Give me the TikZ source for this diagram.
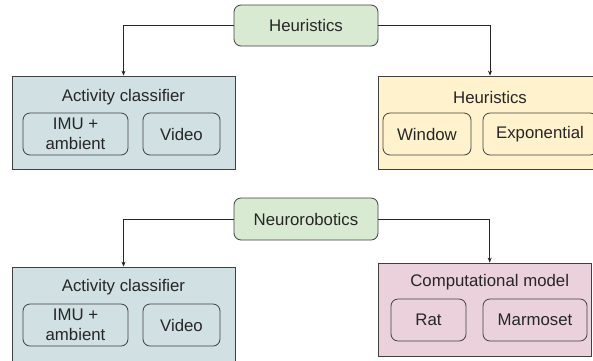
\documentclass[tikz,border=0pt]{standalone}
\usepackage{fontspec}
\setmainfont{Liberation Sans}
\usetikzlibrary{arrows.meta}
\definecolor{cgreen}{HTML}{D9EAD3}
\definecolor{cblue}{HTML}{D0E0E3}
\definecolor{cyellow}{HTML}{FFF2CC}
\definecolor{cpink}{HTML}{EAD1DC}
\definecolor{cline}{HTML}{404040}
\begin{document}
\begin{tikzpicture}[x=1pt,y=-1pt,
  every node/.style={font=\fontsize{16.8}{20}\selectfont, text=black!85, inner sep=0pt, align=center},
  outerbox/.style={draw=cline, line width=0.8pt, minimum width=#1},
  rbox/.style={draw=cline, line width=0.8pt, rounded corners=7pt},
  lbl/.style={draw=none},
  conn/.style={draw=black!85, line width=0.8pt, -{Stealth[length=5pt,width=4pt]}}]
\useasboundingbox (0,0) rectangle (593,360);
\clip (0,0) rectangle (593,360);
% top group
\node[rbox, fill=cgreen, minimum width=144pt, minimum height=41pt] (heur) at (306,25.5) {Heuristics};
\node[outerbox=223pt, fill=cblue, minimum height=93pt] (acA) at (123.5,122.5) {};
\node[lbl] (acAt) at (123.5,97) {Activity classifier};
\node[rbox, minimum width=105pt, minimum height=42pt] (imuA) at (75.5,134) {IMU +\\ambient};
\node[rbox, minimum width=77pt, minimum height=42pt] (vidA) at (181.5,134) {Video};
\node[outerbox=224pt, fill=cyellow, minimum height=93pt] (hbox) at (490,122.5) {};
\node[lbl] (hboxt) at (490,97) {Heuristics};
\node[rbox, minimum width=88pt, minimum height=42pt] (win) at (427,134) {Window};
\node[rbox, minimum width=114pt, minimum height=42pt] (expo) at (540,134) {Exponential};
\draw[conn] (heur.west) -| (acA.north);
\draw[conn] (heur.east) -| (hbox.north);
% bottom group
\node[rbox, fill=cgreen, minimum width=144pt, minimum height=42pt] (neuro) at (306,219) {Neurorobotics};
\node[outerbox=223pt, fill=cblue, minimum height=111pt] (acB) at (123.5,322.5) {};
\node[lbl] (acBt) at (123.5,287) {Activity classifier};
\node[rbox, minimum width=105pt, minimum height=42pt] (imuB) at (75.5,325) {IMU +\\ambient};
\node[rbox, minimum width=77pt, minimum height=42pt] (vidB) at (181.5,325) {Video};
\node[outerbox=213pt, fill=cpink, minimum height=93pt] (cm) at (484.5,309.5) {};
\node[lbl] (cmt) at (489.7,282) {Computational model};
\node[rbox, minimum width=75pt, minimum height=42pt] (rat) at (428.5,320) {Rat};
\node[rbox, minimum width=104pt, minimum height=42pt] (marm) at (535,320) {Marmoset};
\draw[conn] (neuro.west) -| (acB.north);
\draw[conn] (neuro.east) -| (cmt |- cm.north);
\end{tikzpicture}
\end{document}
